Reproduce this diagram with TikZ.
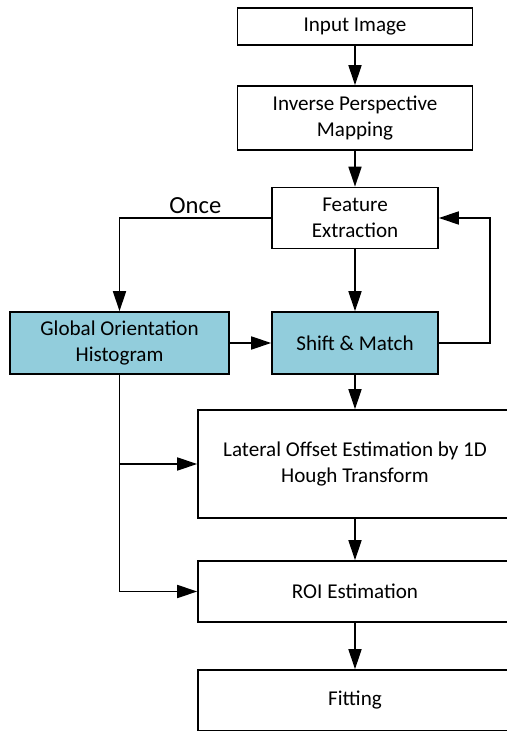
\documentclass[tikz,border=0pt]{standalone}
\usepackage{fontspec}
\setmainfont{Carlito}
\usetikzlibrary{shapes,arrows.meta}
\definecolor{histblue}{RGB}{146,205,220}
\tikzstyle{process} = [rectangle, minimum width=4.7cm, minimum height=0.74cm, align=center, draw=black, line width=0.9pt, inner sep=0pt, font=\fontsize{12}{14.6}\selectfont]
\tikzstyle{stage} = [process, minimum width=3.32cm, minimum height=1.22cm]
\tikzstyle{matchbox} = [stage, fill=histblue, minimum height=1.24cm]
\tikzstyle{wide} = [process, minimum width=6.28cm, minimum height=1.22cm]
\tikzstyle{arrow} = [line width=0.9pt, -{Triangle[length=0.4cm,width=0.26cm]}]

\begin{document}
\begin{tikzpicture}[node distance=2cm]
\useasboundingbox (0,0) rectangle (10.12,-14.62);

\node [process] (input) at (7.1,-0.53) {Input Image};
\node [process, below of=input, yshift=0.17cm, minimum height=1.28cm] (ipm) {Inverse Perspective\\Mapping};
\node [stage, below of=ipm] (feature) {Feature\\Extraction};
\node [matchbox, below of=feature, yshift=-0.5cm] (shift) {Shift \& Match};
\node [matchbox, left of=shift, xshift=-2.71cm, minimum width=4.38cm] (hist) {Global Orientation\\Histogram};
\node [wide, below of=shift, yshift=-0.42cm, minimum height=2.16cm] (lateral) {Lateral Offset Estimation by 1D\\Hough Transform};
\node [wide, below of=lateral, yshift=-0.55cm] (roi) {ROI Estimation};
\node [wide, below of=roi, yshift=-0.18cm] (fitting) {Fitting};

% main column
\draw [arrow] (input) -- (ipm);
\draw [arrow] (ipm) -- (feature);
\draw [arrow] (feature) -- (shift);
\draw [arrow] (shift) -- (lateral);
\draw [arrow] (lateral) -- (roi);
\draw [arrow] (roi) -- (fitting);

% histogram branch
\draw [arrow] (feature.west) -| node [pos=0.25, above, inner sep=2pt, font=\fontsize{14}{16}\selectfont] (once) {Once} (hist.north);
\draw [arrow] (hist) -- (shift);
\draw [arrow] (hist.south) |- (lateral.west);
\draw [arrow] (hist.south) |- (roi.west);

% feedback loop
\draw [arrow] (shift.east) -- ++(1.02,0) |- (feature.east);

\end{tikzpicture}
\end{document}
